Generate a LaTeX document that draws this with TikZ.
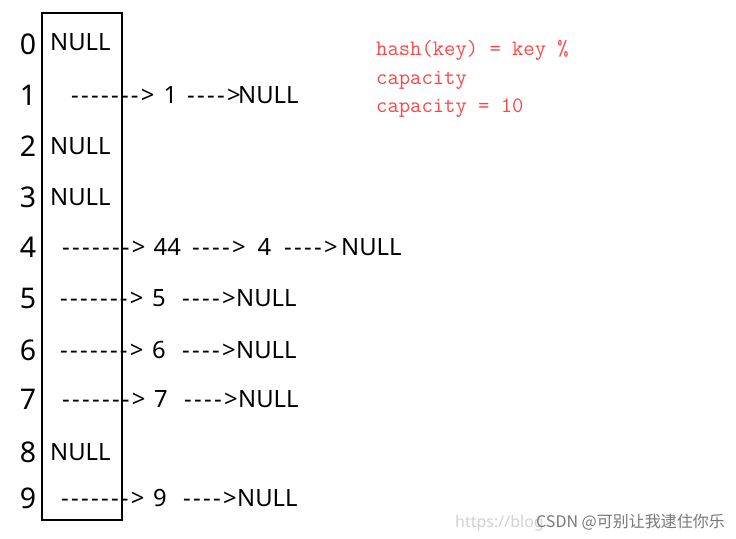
\documentclass[tikz,border=0pt]{standalone}
\usepackage{fontspec}
\setmainfont{Noto Sans}
\newfontfamily\cjkfont{Noto Sans CJK SC}
\usepackage{tikz}
\usepackage{xcolor}
\definecolor{hashred}{RGB}{246,72,72}
\definecolor{wmgray}{RGB}{120,120,120}

% text arrows, one hyphen at a time so no dash ligature forms
\newcommand{\dsh}{-\kern2.3pt}
\newcommand{\longarr}{\dsh\dsh\dsh\dsh\dsh\dsh\dsh>}
\newcommand{\shortarr}{\dsh\dsh\dsh\dsh>}

\tikzset{
  cell/.style={anchor=base west, inner sep=0pt, font=\fontsize{23.8}{28}\selectfont},
  idx/.style={anchor=base, inner sep=0pt, font=\fontsize{28.5}{32}\selectfont},
  code/.style={anchor=base west, inner sep=0pt, text=hashred, font=\ttfamily\fontsize{22}{28}\selectfont},
}

\begin{document}
\begin{tikzpicture}[x=1pt, y=-1pt]
    \useasboundingbox (0,0) rectangle (736,538);
    % bucket array
    \node[draw, line width=1.2pt, minimum width=80pt, minimum height=507pt, inner sep=0pt] (table) at (82,266.5) {};
    \foreach \i/\y in {0/54,1/105,2/156,3/207,4/257,5/308,6/360,7/409,8/462,9/508}
        \node[idx] (idx\i) at (28,\y) {\i};
    % empty buckets
    \foreach \i/\y in {0/50,2/154,3/205,8/460}
        \node[cell] (null\i) at (50,\y) {NULL};
    % chains with one entry
    \foreach \i/\y/\xa/\xb/\xc/\xd in {1/103/71/163.5/187/238, 5/306/60/152/182/236, 6/358/60/152/182/236, 7/407/62/154/184/238, 9/506/61/153/183/237} {
        \node[cell] (arr\i) at (\xa,\y) {\longarr};
        \node[cell] (val\i) at (\xb,\y) {\i};
        \node[cell] (nxt\i) at (\xc,\y) {\shortarr};
        \node[cell] (end\i) at (\xd,\y) {NULL};
    }
    % chain with two entries
    \node[cell] (arr4) at (62,255) {\longarr};
    \node[cell] (val44) at (153.5,255) {44};
    \node[cell] (nxt44) at (192,255) {\shortarr};
    \node[cell] (val4) at (257.5,255) {4};
    \node[cell] (nxt4) at (284,255) {\shortarr};
    \node[cell] (end4) at (341,255) {NULL};
    % hash function
    \node[code] (hashfn) at (376,55) {hash(key) = key \%};
    \node[code] (hashcap) at (376,84) {capacity};
    \node[code] (capval) at (376,112) {capacity = 10};
    % watermark
    \node[anchor=base west, inner sep=0pt, text=black!18, font=\fontsize{16}{18}\selectfont] (wmurl) at (455,527) {https://blog};
    \node[anchor=base west, inner sep=0pt, text=wmgray, font=\cjkfont\fontsize{16}{18}\selectfont] (wmname) at (536,527) {CSDN @可别让我逮住你乐};
\end{tikzpicture}
\end{document}
